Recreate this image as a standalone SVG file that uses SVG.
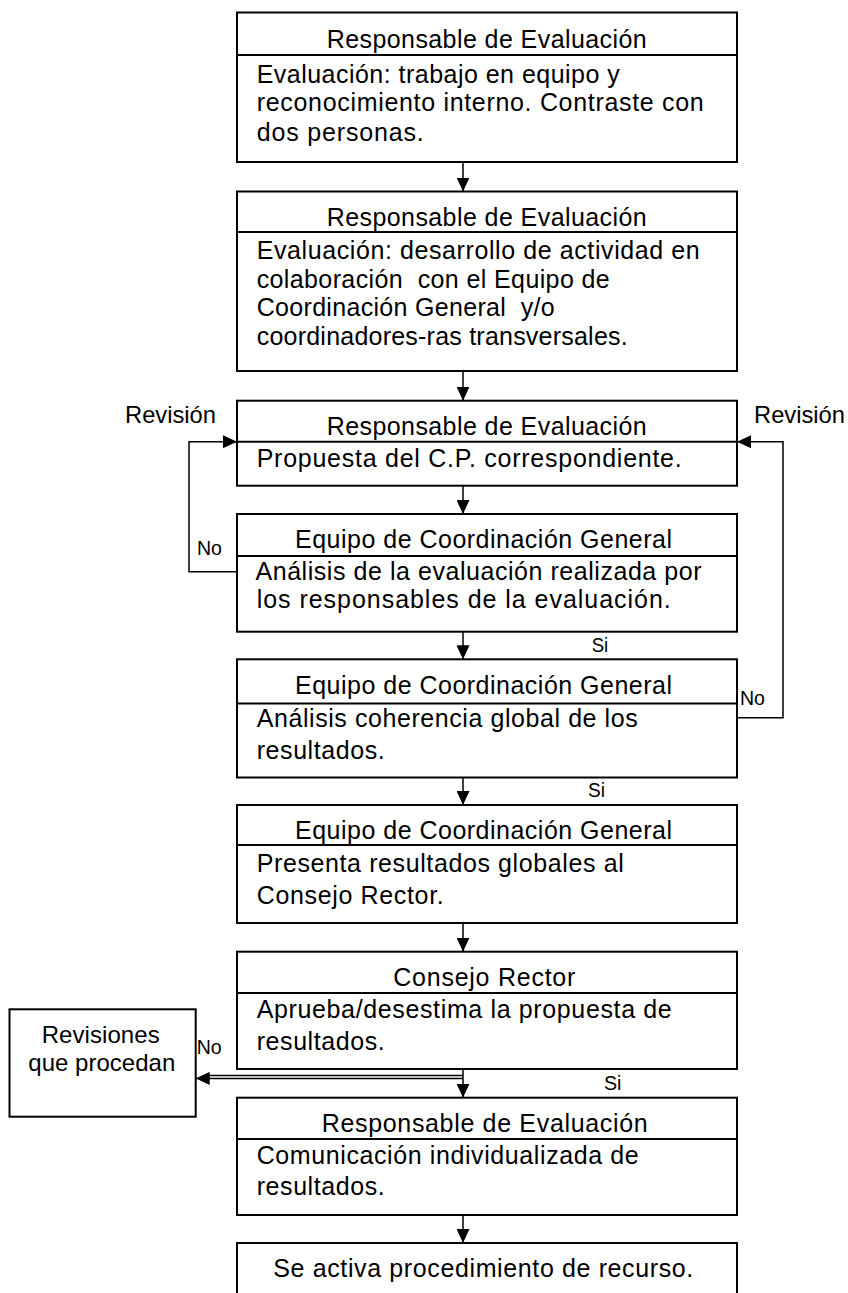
<svg xmlns="http://www.w3.org/2000/svg" width="848" height="1293" viewBox="0 0 848 1293">
<style>
.box{fill:#fff;stroke:#000;stroke-width:2}
.dv{stroke:#000;stroke-width:2}
.t{font-family:"Liberation Sans",Arial,sans-serif;font-size:25px;fill:#000}
.r{font-family:"Liberation Sans",Arial,sans-serif;font-size:24px;fill:#000}
.s{font-family:"Liberation Sans",Arial,sans-serif;font-size:20px;fill:#000}
.c{fill:none;stroke:#000;stroke-width:1.5}
</style>
<defs>
<marker id="ah" viewBox="0 0 14 13" refX="14" refY="6.5" markerWidth="14" markerHeight="13" markerUnits="userSpaceOnUse" orient="auto"><path d="M0,0 L14,6.5 L0,13 z" fill="#000"/></marker>
</defs>
<rect width="848" height="1293" fill="#fff"/>

<g id="connectors">
<line class="c" x1="463" y1="162" x2="463" y2="191.5" marker-end="url(#ah)"/>
<line class="c" x1="463" y1="371" x2="463" y2="400.7" marker-end="url(#ah)"/>
<line class="c" x1="463" y1="485.7" x2="463" y2="514" marker-end="url(#ah)"/>
<line class="c" x1="463" y1="631.7" x2="463" y2="659.3" marker-end="url(#ah)"/>
<line class="c" x1="463" y1="777.5" x2="463" y2="805" marker-end="url(#ah)"/>
<line class="c" x1="463" y1="923" x2="463" y2="951.7" marker-end="url(#ah)"/>
<line class="c" x1="463" y1="1069" x2="463" y2="1097.7" marker-end="url(#ah)"/>
<line class="c" x1="463" y1="1215" x2="463" y2="1243" marker-end="url(#ah)"/>
<polyline class="c" points="237,571.7 189,571.7 189,441.7 237,441.7" marker-end="url(#ah)"/>
<polyline class="c" points="737,717.7 783,717.7 783,441.7 737,441.7" marker-end="url(#ah)"/>
<line class="c" x1="463" y1="1075.6" x2="207" y2="1075.6"/>
<line class="c" x1="463" y1="1078.4" x2="195.7" y2="1078.4" marker-end="url(#ah)"/>
<text class="r" x="125" y="423.3" textLength="91" lengthAdjust="spacingAndGlyphs">Revisión</text>
<text class="r" x="754" y="423.3" textLength="91" lengthAdjust="spacingAndGlyphs">Revisión</text>
<text class="s" x="197" y="555" textLength="25" lengthAdjust="spacingAndGlyphs">No</text>
<text class="s" x="740" y="705" textLength="25" lengthAdjust="spacingAndGlyphs">No</text>
<text class="s" x="591.7" y="652" textLength="16.5" lengthAdjust="spacingAndGlyphs">Si</text>
<text class="s" x="588" y="796.7" textLength="17" lengthAdjust="spacingAndGlyphs">Si</text>
<text class="s" x="604" y="1090" textLength="17.5" lengthAdjust="spacingAndGlyphs">Si</text>
<text class="s" x="196.7" y="1054" textLength="25" lengthAdjust="spacingAndGlyphs">No</text>
</g>

<g id="n1">
<rect class="box" x="237" y="12.5" width="500" height="149.5"/>
<line class="dv" x1="237" y1="55" x2="737" y2="55"/>
<text class="t" x="326.7" y="48.3" textLength="320" lengthAdjust="spacing">Responsable de Evaluación</text>
<text class="t" x="256.7" y="82.5" textLength="363" lengthAdjust="spacing">Evaluación: trabajo en equipo y</text>
<text class="t" x="256.7" y="111" textLength="447" lengthAdjust="spacing">reconocimiento interno. Contraste con</text>
<text class="t" x="256.7" y="140.5" textLength="167" lengthAdjust="spacing">dos personas.</text>
</g>

<g id="n2">
<rect class="box" x="237" y="191.5" width="500" height="179.5"/>
<line class="dv" x1="237" y1="232" x2="737" y2="232"/>
<text class="t" x="326.7" y="225.5" textLength="320" lengthAdjust="spacing">Responsable de Evaluación</text>
<text class="t" x="256.7" y="258.5" textLength="443" lengthAdjust="spacing">Evaluación: desarrollo de actividad en</text>
<text class="t" x="256.7" y="287.5" textLength="353" lengthAdjust="spacing" xml:space="preserve">colaboración  con el Equipo de</text>
<text class="t" x="256.7" y="316" textLength="298" lengthAdjust="spacing" xml:space="preserve">Coordinación General  y/o</text>
<text class="t" x="256.7" y="345" textLength="371" lengthAdjust="spacing">coordinadores-ras transversales.</text>
</g>

<g id="n3">
<rect class="box" x="237" y="400.7" width="500" height="85"/>
<line class="dv" x1="237" y1="441.7" x2="737" y2="441.7"/>
<text class="t" x="326.7" y="435" textLength="320" lengthAdjust="spacing">Responsable de Evaluación</text>
<text class="t" x="256.7" y="467" textLength="425" lengthAdjust="spacing">Propuesta del C.P. correspondiente.</text>
</g>

<g id="n4">
<rect class="box" x="237" y="514" width="500" height="117.7"/>
<line class="dv" x1="237" y1="556" x2="737" y2="556"/>
<text class="t" x="295" y="548" textLength="377" lengthAdjust="spacing">Equipo de Coordinación General</text>
<text class="t" x="255.5" y="580" textLength="446" lengthAdjust="spacing">Análisis de la evaluación realizada por</text>
<text class="t" x="256.7" y="608" textLength="414" lengthAdjust="spacing">los responsables de la evaluación.</text>
</g>

<g id="n5">
<rect class="box" x="237" y="659.3" width="500" height="118.2"/>
<line class="dv" x1="237" y1="703.5" x2="737" y2="703.5"/>
<text class="t" x="295" y="694" textLength="377" lengthAdjust="spacing">Equipo de Coordinación General</text>
<text class="t" x="256.7" y="726.5" textLength="381" lengthAdjust="spacing">Análisis coherencia global de los</text>
<text class="t" x="256.7" y="758.5" textLength="128" lengthAdjust="spacing">resultados.</text>
</g>

<g id="n6">
<rect class="box" x="237" y="805" width="500" height="118"/>
<line class="dv" x1="237" y1="845" x2="737" y2="845"/>
<text class="t" x="295" y="839" textLength="377" lengthAdjust="spacing">Equipo de Coordinación General</text>
<text class="t" x="256.7" y="871.7" textLength="367" lengthAdjust="spacing">Presenta resultados globales al</text>
<text class="t" x="256.7" y="904" textLength="187" lengthAdjust="spacing">Consejo Rector.</text>
</g>

<g id="n7">
<rect class="box" x="237" y="951.7" width="500" height="117.3"/>
<line class="dv" x1="237" y1="993" x2="737" y2="993"/>
<text class="t" x="393.3" y="986" textLength="182" lengthAdjust="spacing">Consejo Rector</text>
<text class="t" x="256.7" y="1017.5" textLength="415" lengthAdjust="spacing">Aprueba/desestima la propuesta de</text>
<text class="t" x="256.7" y="1050" textLength="128" lengthAdjust="spacing">resultados.</text>
</g>

<g id="n8">
<rect class="box" x="237" y="1097.7" width="500" height="117.3"/>
<line class="dv" x1="237" y1="1139" x2="737" y2="1139"/>
<text class="t" x="321.7" y="1131.5" textLength="326" lengthAdjust="spacing">Responsable de Evaluación</text>
<text class="t" x="256.7" y="1163.5" textLength="382" lengthAdjust="spacing">Comunicación individualizada de</text>
<text class="t" x="256.7" y="1195" textLength="128" lengthAdjust="spacing">resultados.</text>
</g>

<g id="n9">
<rect class="box" x="237" y="1243" width="500" height="70"/>
<text class="t" x="273.3" y="1276.7" textLength="420" lengthAdjust="spacing">Se activa procedimiento de recurso.</text>
</g>

<g id="n10">
<rect class="box" x="9.5" y="1009.3" width="186.2" height="107.4"/>
<text class="r" x="41.7" y="1043.3" textLength="118" lengthAdjust="spacing">Revisiones</text>
<text class="r" x="28.3" y="1070.7" textLength="147" lengthAdjust="spacing">que procedan</text>
</g>
</svg>
